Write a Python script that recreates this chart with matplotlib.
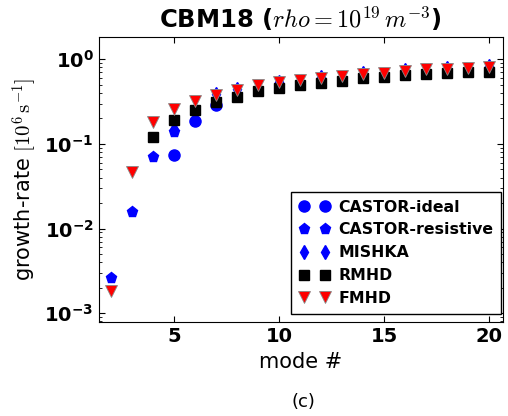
import matplotlib
matplotlib.use("Agg")
import matplotlib.pyplot as plt
import numpy as np

plt.rcParams['mathtext.fontset'] = 'cm'

# growth rates, [1e6 s^-1]
ideal_modes = [5, 6, 7]
ideal_rate = [0.073, 0.187, 0.285]

resist_modes = [2, 3, 4, 5]
resist_rate = [0.00258, 0.0155, 0.0706, 0.139]

mishka_modes = [5, 7, 8, 10, 12, 14, 16, 18, 20]
mishka_rate = [0.15, 0.385, 0.445, 0.545, 0.62, 0.68, 0.75, 0.79, 0.835]

rmhd_modes = list(range(4, 21))
rmhd_rate = [0.122, 0.192, 0.252, 0.315, 0.360, 0.420, 0.460, 0.497, 0.529,
             0.558, 0.596, 0.623, 0.647, 0.670, 0.683, 0.702, 0.714]

fmhd_modes = list(range(2, 21))
fmhd_rate = [0.00184, 0.0466, 0.181, 0.259, 0.324, 0.380, 0.436, 0.497, 0.532,
             0.569, 0.606, 0.635, 0.664, 0.689, 0.733, 0.762, 0.774, 0.796, 0.818]

fig = plt.figure(figsize=(5.08, 4.16), dpi=100)
ax = fig.add_axes([0.194, 0.225, 0.796, 0.687])

ax.plot(ideal_modes, ideal_rate, 'o', color='b', ms=8, label='CASTOR-ideal')
ax.plot(resist_modes, resist_rate, 'p', color='b', ms=8, label='CASTOR-resistive')
ax.plot(mishka_modes, mishka_rate, 'd', color='b', ms=7, label='MISHKA')
ax.plot(rmhd_modes, rmhd_rate, 's', color='k', ms=7.5, label='RMHD')
ax.plot(fmhd_modes, fmhd_rate, 'v', color='r', ms=9, mec='#888888', mew=0.6,
        label='FMHD')

ax.set_yscale('log')
ax.set_xlim(1.4, 20.65)
ax.set_ylim(7.8e-4, 1.85)
ax.set_xticks([5, 10, 15, 20])
ax.tick_params(which='both', direction='in', top=True, right=True, labelsize=14)
ax.tick_params(which='major', length=4)
ax.tick_params(which='minor', length=2)
for lab in ax.get_xticklabels() + ax.get_yticklabels():
    lab.set_fontweight('bold')

ax.set_xlabel('mode #', fontsize=15)
ax.set_ylabel(r'growth-rate $[10^6\,\mathrm{s}^{-1}]$', fontsize=15)
ax.set_title(r'CBM18 ($rho = 10^{19}\,m^{-3}$)', fontsize=17.5, fontweight='bold')

leg = ax.legend(loc='lower right', bbox_to_anchor=(0.995, 0.03), numpoints=2,
                fancybox=False, framealpha=1, edgecolor='k',
                prop={'weight': 'bold', 'size': 11.3},
                labelspacing=0.5, borderaxespad=0, handletextpad=0.5,
                borderpad=0.5)

fig.text(0.598, 0.034, '(c)', ha='center', va='center', fontsize=13)

fig.savefig('out.png', dpi=100)
